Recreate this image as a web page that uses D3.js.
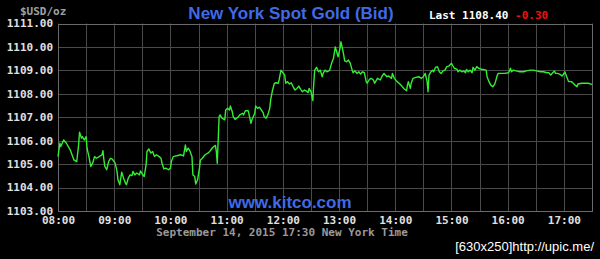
<!DOCTYPE html>
<html>
<head>
<meta charset="utf-8">
<script src="https://cdn.jsdelivr.net/npm/d3@7"></script>
<style>
  body { margin: 0; background: #000; }
  svg { display: block; }
</style>
</head>
<body>
<div id="gold_chart"></div>
<script>
// minutes after 08:00 New York time, and the bid at that minute
const minsAfter8 = [
  0, 2, 3, 6, 9, 13, 17, 20, 22, 23, 25, 26, 28, 30, 31, 33, 35, 37, 39, 41,
  44, 47, 48, 49, 50, 52, 54, 56, 58, 61, 63, 64, 66, 68, 70, 72, 73, 75, 77, 79,
  80, 82, 84, 87, 88, 90, 92, 94, 95, 97, 99, 101, 103, 105, 108, 110, 111, 113, 115, 118,
  120, 121, 123, 126, 128, 131, 134, 136, 137, 139, 141, 143, 144, 146, 147, 149, 151, 152, 154, 157,
  160, 162, 165, 168, 169, 170, 172, 173, 175, 178, 179, 181, 183, 184, 186, 187, 189, 192, 194, 197,
  198, 200, 203, 204, 206, 207, 210, 211, 213, 215, 217, 219, 220, 222, 224, 226, 227, 229, 231, 232,
  235, 236, 238, 240, 242, 243, 245, 247, 249, 251, 253, 255, 257, 259, 261, 263, 265, 267, 268, 270,
  272, 273, 274, 276, 278, 280, 282, 283, 285, 287, 289, 290, 292, 294, 296, 298, 299, 301, 302, 304,
  305, 306, 308, 310, 312, 314, 315, 317, 319, 321, 323, 325, 327, 329, 330, 332, 334, 336, 337, 338,
  341, 344, 346, 348, 351, 353, 356, 357, 359, 362, 364, 367, 369, 372, 373, 374, 376, 377, 379, 382,
  385, 388, 390, 392, 394, 395, 396, 398, 400, 401, 403, 405, 407, 409, 411, 413, 415, 417, 420, 421,
  423, 426, 427, 429, 431, 433, 435, 436, 438, 440, 442, 443, 445, 447, 449, 452, 454, 457, 458, 460,
  462, 464, 466, 467, 469, 470, 474, 477, 481, 483, 484, 486, 490, 493, 497, 500, 504, 507, 511, 515,
  518, 522, 524, 526, 528, 530, 531, 533, 536, 538, 539, 541, 543, 545, 548, 550, 552, 554, 555, 559,
  563, 566, 570
];
const bid = [
  1105.32, 1105.89, 1105.75, 1106.03, 1105.89, 1105.61, 1105.18, 1105.11, 1105.82, 1106.36,
  1106.11, 1106.17, 1106.03, 1106.17, 1105.68, 1105.32, 1104.90, 1105.04, 1105.32, 1105.25,
  1105.32, 1105.40, 1105.57, 1105.18, 1104.90, 1104.76, 1105.11, 1105.25, 1105.21, 1105.04,
  1104.69, 1104.33, 1104.12, 1104.66, 1104.40, 1104.19, 1104.12, 1104.40, 1104.54, 1104.51,
  1104.69, 1104.54, 1104.62, 1104.54, 1104.71, 1104.57, 1104.47, 1104.97, 1105.54, 1105.65,
  1105.47, 1105.54, 1105.32, 1105.40, 1105.32, 1105.25, 1105.04, 1104.80, 1104.83, 1104.76,
  1104.83, 1105.11, 1105.32, 1105.35, 1105.37, 1105.40, 1105.35, 1105.82, 1105.54, 1105.68,
  1105.54, 1105.32, 1104.54, 1104.47, 1104.15, 1104.33, 1104.83, 1105.18, 1105.25, 1105.40,
  1105.47, 1105.54, 1105.71, 1105.80, 1105.54, 1105.04, 1107.03, 1107.10, 1106.96, 1106.89,
  1107.31, 1107.38, 1107.31, 1107.48, 1107.24, 1107.03, 1106.91, 1107.00, 1107.10, 1107.17,
  1107.10, 1107.28, 1107.28, 1107.10, 1106.74, 1106.89, 1107.17, 1107.48, 1107.38, 1107.43,
  1107.31, 1107.20, 1107.03, 1106.96, 1107.10, 1107.38, 1107.74, 1108.16, 1108.45, 1108.47,
  1108.45, 1108.59, 1109.01, 1108.90, 1108.80, 1108.45, 1108.52, 1108.42, 1108.47, 1108.30,
  1108.16, 1108.23, 1108.33, 1108.19, 1108.09, 1108.16, 1108.12, 1108.05, 1108.23, 1108.09,
  1107.71, 1108.45, 1109.01, 1109.13, 1108.94, 1109.01, 1108.73, 1108.87, 1109.01, 1108.94,
  1108.98, 1109.01, 1109.30, 1109.51, 1110.00, 1109.72, 1109.58, 1109.94, 1110.22, 1109.86,
  1109.65, 1109.41, 1109.37, 1109.44, 1109.30, 1109.01, 1108.90, 1108.98, 1108.87, 1108.94,
  1108.84, 1108.94, 1108.90, 1108.52, 1108.45, 1108.59, 1108.66, 1108.62, 1108.56, 1108.45,
  1108.66, 1108.59, 1108.76, 1108.87, 1108.73, 1108.76, 1108.66, 1108.87, 1108.66, 1108.52,
  1108.45, 1108.33, 1108.23, 1108.13, 1108.37, 1108.52, 1108.23, 1108.45, 1108.66, 1108.70,
  1108.73, 1108.66, 1108.73, 1108.87, 1108.52, 1108.09, 1108.80, 1108.94, 1109.01, 1108.94,
  1109.13, 1109.16, 1108.94, 1108.87, 1108.98, 1109.01, 1109.16, 1109.18, 1109.30, 1109.23,
  1109.09, 1109.04, 1108.94, 1109.01, 1108.94, 1108.98, 1108.90, 1109.04, 1108.94, 1109.01,
  1108.90, 1109.13, 1109.01, 1109.16, 1109.09, 1109.04, 1109.04, 1109.01, 1108.73, 1108.52,
  1108.37, 1108.30, 1108.40, 1108.52, 1108.80, 1108.87, 1108.87, 1108.87, 1108.90, 1109.09,
  1108.94, 1109.01, 1108.97, 1108.94, 1108.94, 1108.98, 1109.01, 1109.01, 1108.98, 1108.94,
  1108.94, 1108.90, 1108.90, 1108.80, 1108.90, 1108.97, 1108.87, 1108.87, 1108.83, 1108.76,
  1108.80, 1108.94, 1108.73, 1108.52, 1108.52, 1108.45, 1108.37, 1108.30, 1108.42, 1108.45,
  1108.45, 1108.45, 1108.40
];
const priceTicks = [1103, 1104, 1105, 1106, 1107, 1108, 1109, 1110, 1111];
const hourLabels = ["08:00", "09:00", "10:00", "11:00", "12:00", "13:00", "14:00", "15:00", "16:00", "17:00"];
const lastPrice = "1108.40";
const change = "-0.30";

const width = 600, height = 259;
const mono = "'DejaVu Sans Mono', monospace";
const sans = "'Liberation Sans', Arial, sans-serif";

const svg = d3.select("#gold_chart")
  .append("svg")
  .attr("width", width)
  .attr("height", height)
  .style("background", "#000");

let data = minsAfter8.map((m, i) => ({ m: m, v: bid[i] }));

// scales
let x = d3.scaleLinear()
  .domain([0, 570])
  .range([58, 592]);
let y = d3.scaleLinear()
  .domain([1103, 1111])
  .range([211, 23.5]);

// grid, every dollar and every half hour
svg.append("g")
  .selectAll("line")
  .data(priceTicks)
  .join("line")
  .attr("x1", x(0)).attr("x2", x(570))
  .attr("y1", d => Math.round(y(d)) + 0.5)
  .attr("y2", d => Math.round(y(d)) + 0.5)
  .attr("stroke", "#4a4a4a");
svg.append("g")
  .selectAll("line")
  .data(d3.range(0, 571, 30))
  .join("line")
  .attr("y1", y(1103)).attr("y2", y(1111))
  .attr("x1", d => Math.round(x(d)) + 0.5)
  .attr("x2", d => Math.round(x(d)) + 0.5)
  .attr("stroke", "#4a4a4a");

// frame
svg.append("rect")
  .attr("x", Math.round(x(0)) + 0.5)
  .attr("y", Math.round(y(1111)) + 0.5)
  .attr("width", Math.round(x(570)) - Math.round(x(0)))
  .attr("height", Math.round(y(1103)) - Math.round(y(1111)))
  .attr("fill", "none")
  .attr("stroke", "#6a6a6a");

// Y axis
let yAxis = svg.append("g")
  .attr("transform", `translate(${x(0)},0)`)
  .call(d3.axisLeft(y).tickValues(priceTicks).tickFormat(d3.format(".2f")).tickSize(0).tickPadding(5));
yAxis.select(".domain").remove();
yAxis.selectAll("text")
  .attr("fill", "#e0e0e0")
  .attr("dy", "0.3em")
  .style("font-family", mono)
  .style("font-size", "11px")
  .style("font-weight", "bold");

// X axis
let xAxis = svg.append("g")
  .attr("transform", `translate(0,${y(1103)})`)
  .call(d3.axisBottom(x).tickValues(hourLabels.map((h, i) => i * 60))
    .tickFormat((d, i) => hourLabels[i]).tickSize(0).tickPadding(6));
xAxis.select(".domain").remove();
xAxis.selectAll("text")
  .attr("fill", "#e0e0e0")
  .attr("dy", "0.65em")
  .style("font-family", mono)
  .style("font-size", "11px")
  .style("font-weight", "bold");

// the price line
svg.append("path")
  .datum(data)
  .attr("fill", "none")
  .attr("stroke", "#33ee33")
  .attr("stroke-width", 1.4)
  .attr("stroke-linejoin", "round")
  .attr("d", d3.line()
    .x(d => x(d.m))
    .y(d => y(d.v))
  );

// texts
svg.append("text")
  .attr("x", 20).attr("y", 15)
  .attr("fill", "#a0a0a0")
  .style("font-family", mono).style("font-size", "11px").style("font-weight", "bold")
  .text("$USD/oz");

svg.append("text")
  .attr("x", 291).attr("y", 19)
  .attr("text-anchor", "middle")
  .attr("fill", "#3f6ae8")
  .style("font-family", sans).style("font-size", "17px").style("font-weight", "bold")
  .text("New York Spot Gold (Bid)");

let last = svg.append("text")
  .attr("x", 429).attr("y", 19)
  .style("font-family", mono).style("font-size", "11px").style("font-weight", "bold");
last.append("tspan").attr("fill", "#ffffff").text("Last " + lastPrice + " ");
last.append("tspan").attr("fill", "#ee1111").text(change);

svg.append("text")
  .attr("x", 290).attr("y", 208)
  .attr("text-anchor", "middle")
  .attr("fill", "#3f6ae8")
  .style("font-family", sans).style("font-size", "17px").style("font-weight", "bold")
  .text("www.kitco.com");

svg.append("text")
  .attr("x", 282).attr("y", 236)
  .attr("text-anchor", "middle")
  .attr("fill", "#9a9a9a")
  .style("font-family", mono).style("font-size", "11px").style("font-weight", "bold")
  .text("September 14, 2015 17:30 New York Time");

svg.append("text")
  .attr("x", 594).attr("y", 251)
  .attr("text-anchor", "end")
  .attr("fill", "#ffffff")
  .style("font-family", sans).style("font-size", "13px")
  .text("[630x250]http://upic.me/");
</script>
</body>
</html>
